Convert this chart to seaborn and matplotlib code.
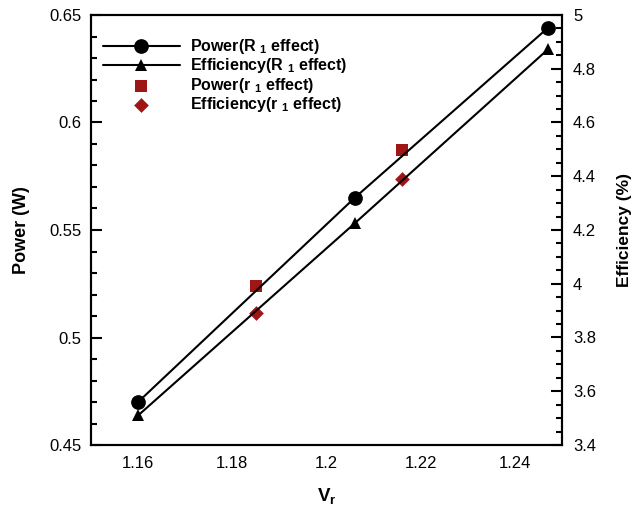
import matplotlib
matplotlib.use("Agg")
import matplotlib.pyplot as plt
from matplotlib.ticker import MultipleLocator, FuncFormatter
import seaborn as sns

# data
vr_R1 = [1.16, 1.206, 1.247]
power_R1 = [0.470, 0.565, 0.644]
eff_R1 = [3.51, 4.225, 4.872]

vr_r1 = [1.185, 1.216]
power_r1 = [0.524, 0.587]
eff_r1 = [3.89, 4.389]

red = "#9e1616"

sns.set_style("white")
plt.rcParams["font.family"] = ["Liberation Sans", "DejaVu Sans"]
plt.rcParams["mathtext.fontset"] = "custom"
plt.rcParams["mathtext.rm"] = "Liberation Sans"
plt.rcParams["mathtext.bf"] = "Liberation Sans:bold"
plt.rcParams["mathtext.it"] = "Liberation Sans:italic"
for k in ("text.color", "axes.labelcolor", "xtick.color", "ytick.color", "axes.edgecolor"):
    plt.rcParams[k] = "black"

fig = plt.figure(figsize=(6.37, 5.13), dpi=100)
ax = fig.add_axes([91 / 637, 1 - 445 / 513, 471 / 637, 430 / 513])
ax2 = ax.twinx()

# power on the left axis
sns.lineplot(x=vr_R1, y=power_R1, ax=ax, color="black", lw=1.5, marker="o",
             markersize=10.6, markeredgewidth=0, label="Power(R $_{\\bf 1}$ effect)",
             legend=False)
sns.scatterplot(x=vr_r1, y=power_r1, ax=ax, color=red, marker="s", s=8.4 ** 2,
                linewidth=0, label="Power(r $_{\\bf 1}$ effect)", legend=False)

# efficiency on the right axis
sns.lineplot(x=vr_R1, y=eff_R1, ax=ax2, color="black", lw=1.5, marker="^",
             markersize=9, markeredgewidth=0, label="Efficiency(R $_{\\bf 1}$ effect)",
             legend=False)
sns.scatterplot(x=vr_r1, y=eff_r1, ax=ax2, color=red, marker="D", s=7.5 ** 2,
                linewidth=0, label="Efficiency(r $_{\\bf 1}$ effect)", legend=False)

ax.set_xlim(1.15, 1.25)
ax.set_ylim(0.45, 0.65)
ax2.set_ylim(3.4, 5.0)

fmt = FuncFormatter(lambda v, p: "%g" % round(v, 4))
ax.xaxis.set_major_locator(MultipleLocator(0.02))
ax.xaxis.set_minor_locator(MultipleLocator(0.005))
ax.yaxis.set_major_locator(MultipleLocator(0.05))
ax.yaxis.set_minor_locator(MultipleLocator(0.01))
ax2.yaxis.set_major_locator(MultipleLocator(0.2))
ax2.yaxis.set_minor_locator(MultipleLocator(0.05))
for a in (ax.xaxis, ax.yaxis, ax2.yaxis):
    a.set_major_formatter(fmt)

ax.tick_params(which="both", direction="in", width=1.5, labelsize=12,
               top=False, right=False, pad=7)
ax.tick_params(which="major", length=8)
ax.tick_params(which="minor", length=4.5)
ax.tick_params(axis="x", pad=8)
ax2.tick_params(which="both", direction="in", width=1.5, labelsize=12,
                left=False, right=True, pad=8)
ax2.tick_params(which="major", length=8)
ax2.tick_params(which="minor", length=4.5)

for a in (ax, ax2):
    for s in a.spines.values():
        s.set_linewidth(1.5)
        s.set_color("black")

ax.set_xlabel("$\\mathbf{V_r}$", fontsize=13.5)
ax.set_ylabel("Power (W)", fontsize=13, fontweight="bold")
ax2.set_ylabel("Efficiency (%)", fontsize=12.5, fontweight="bold")
ax.xaxis.set_label_coords(0.5, -0.095)
ax.xaxis.label.set_va("top")
ax.yaxis.set_label_coords(-0.13, 0.5)
ax2.yaxis.set_label_coords(1.117, 0.5)

h1, l1 = ax.get_legend_handles_labels()
h2, l2 = ax2.get_legend_handles_labels()
handles = [h1[0], h2[0], h1[1], h2[1]]
labels = [l1[0], l2[0], l1[1], l2[1]]
leg = ax2.legend(handles, labels, loc="upper left", bbox_to_anchor=(-0.005, 0.982),
                 frameon=False, handlelength=4.8, handletextpad=0.65,
                 labelspacing=0.02, prop={"weight": "bold", "size": 11.5})

fig.savefig("out.png", dpi=100)
